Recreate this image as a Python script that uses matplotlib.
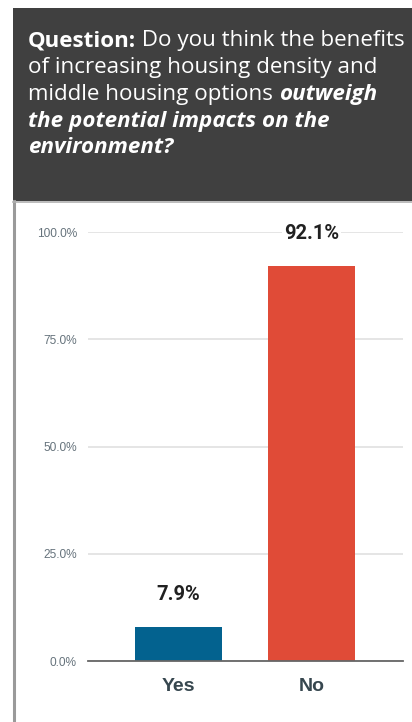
import matplotlib.pyplot as plt
from matplotlib.patches import Rectangle
from matplotlib.lines import Line2D

categories = ["Yes", "No"]
shares = [0.079, 0.921]
bar_colors = ["#03628f", "#e04b37"]
yticks = [0.0, 0.25, 0.50, 0.75, 1.0]
ytick_labels = ["0.0%", "25.0%", "50.0%", "75.0%", "100.0%"]

W, H = 412, 722
fig = plt.figure(figsize=(W / 100, H / 100), dpi=100)


def fx(px):
    return px / W


def fy(py):
    return 1 - py / H


# dark header box
fig.patches.append(Rectangle((fx(13), fy(201)), fx(W - 13), (193) / H,
                             transform=fig.transFigure, facecolor="#404040",
                             edgecolor="none", zorder=0))
# panel borders
fig.lines.append(Line2D([fx(14), fx(14)], [fy(201), 0], transform=fig.transFigure,
                        color="#9a9a9a", lw=2.2))
fig.lines.append(Line2D([fx(13), 1], [fy(202), fy(202)], transform=fig.transFigure,
                        color="#b0b0b0", lw=1.2))

# title text, pieces placed one after another
renderer = fig.canvas.get_renderer()
fs = 16.1
fam = ["Open Sans", "DejaVu Sans"]
lines = [
    [("Question:", "bold", "normal"), (" Do you think the benefits", "normal", "normal")],
    [("of increasing housing density and", "normal", "normal")],
    [("middle housing options ", "normal", "normal"), ("outweigh", "bold", "italic")],
    [("the potential impacts on the", "bold", "italic")],
    [("environment?", "bold", "italic")],
]
base_y = [46, 73, 100, 127, 153]
for parts, by in zip(lines, base_y):
    x = 28
    for txt, wt, st in parts:
        t = fig.text(fx(x), fy(by), txt, color="white", fontsize=fs, fontweight=wt,
                     fontstyle=st, family=fam, va="baseline", ha="left")
        bb = t.get_window_extent(renderer)
        x += bb.width

# chart
ax = fig.add_axes([fx(88), fy(661), fx(403 - 88), (661 - 232) / H])
x_pos = list(range(len(categories)))
bars = ax.bar(x_pos, shares, width=0.654, color=bar_colors, zorder=2)
ax.set_xlim(-0.68, 1.69)
ax.set_ylim(0, 1)
ax.set_yticks(yticks)
ax.set_yticklabels(ytick_labels, fontsize=8.6, color="#66737c", family="Liberation Sans")
ax.set_xticks(x_pos)
ax.set_xticklabels(categories, fontsize=14, fontweight="bold", color="#37474f",
                   family="Liberation Sans")
ax.tick_params(axis="y", length=0, pad=8)
ax.tick_params(axis="x", length=0, pad=12)
ax.grid(axis="y", color="#e0e0e0", lw=1.2, zorder=0)
ax.set_axisbelow(True)
for s in ["top", "right", "left"]:
    ax.spines[s].set_visible(False)
ax.spines["bottom"].set_color("#666666")
ax.spines["bottom"].set_linewidth(1.3)
ax.spines["bottom"].set_zorder(3)

for xp, v in zip(x_pos, shares):
    ax.annotate(f"{v * 100:.1f}%", xy=(xp, v), xytext=(0, 23.5), textcoords="offset points",
                ha="center", va="center", fontsize=14.5, fontweight="bold",
                color="#212121", family="Roboto",
                bbox=dict(facecolor="white", edgecolor="none", pad=1.5), zorder=4,
                annotation_clip=False)

fig.savefig("out.png", dpi=100)
